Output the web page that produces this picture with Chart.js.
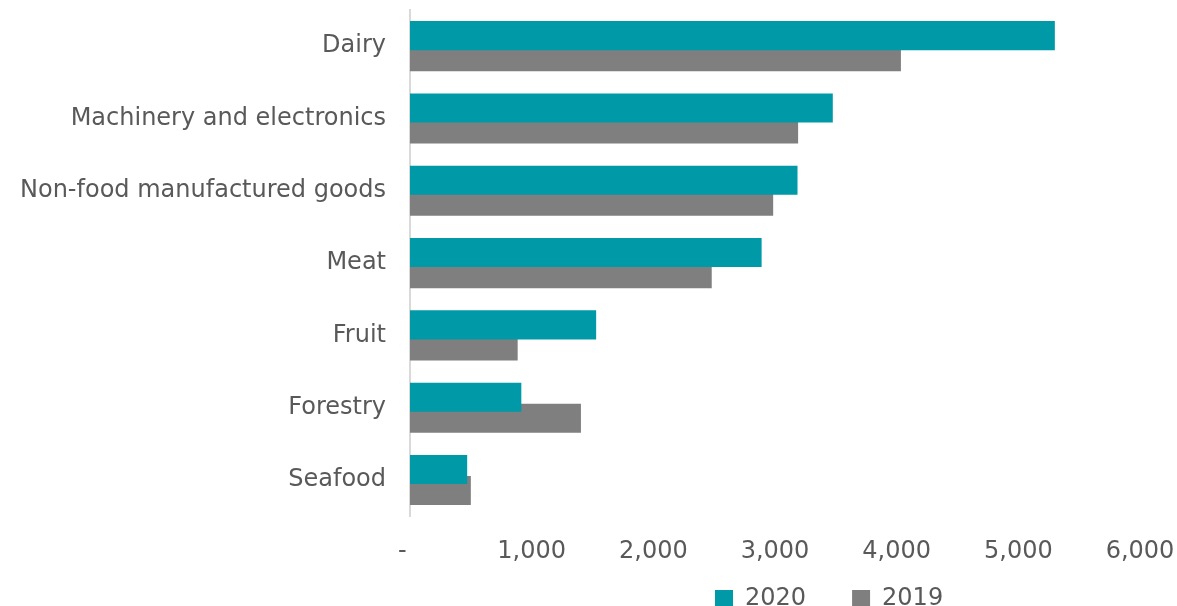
<!DOCTYPE html>
<html>
<head>
<meta charset="utf-8">
<script src="https://cdn.jsdelivr.net/npm/chart.js@4.4.1/dist/chart.umd.min.js"></script>
<style>
  html, body { margin: 0; padding: 0; background: #fff; overflow: hidden; }
  .chart-box { position: relative; width: 1177px; height: 667px; }
</style>
</head>
<body>
<div class="chart-box"><canvas id="exportChart"></canvas></div>
<script>
const categories = ['Dairy', 'Machinery and electronics', 'Non-food manufactured goods', 'Meat', 'Fruit', 'Forestry', 'Seafood'];
const values2020 = [5300, 3475, 3185, 2890, 1530, 915, 470];
const values2019 = [4035, 3190, 2985, 2480, 885, 1405, 500];
const xTicks = [0, 1000, 2000, 3000, 4000, 5000, 6000];

const FONT = 'DejaVu Sans, Verdana, sans-serif';
const TEXT = '#595959';

function numberFmt(value) {
  if (Number(value) === 0) return '-  ';
  return new Intl.NumberFormat('en-US', { maximumFractionDigits: 0 }).format(value);
}

// Excel puts the legend off-centre and close under the axis, so move it after layout
const legendPlace = {
  id: 'legendPlace',
  afterLayout(chart) {
    const lg = chart.legend;
    const pad = lg.options.labels.padding;
    const w = lg.right - lg.left;
    const h = lg.bottom - lg.top;
    lg.left = 715 - pad;
    lg.right = lg.left + w;
    lg.top = 587 - pad;
    lg.bottom = lg.top + h;
  }
};

new Chart(document.getElementById('exportChart'), {
  type: 'bar',
  data: {
    labels: categories,
    datasets: [
      { label: '2020', data: values2020, backgroundColor: '#0099A8', categoryPercentage: 0.582, barPercentage: 1.38 },
      { label: '2019', data: values2019, backgroundColor: '#7F7F7F', categoryPercentage: 0.582, barPercentage: 1.38 }
    ]
  },
  options: {
    indexAxis: 'y',
    responsive: true,
    maintainAspectRatio: false,
    animation: false,
    layout: { padding: { top: 10, right: 37, bottom: 0, left: 0 } },
    plugins: {
      tooltip: { enabled: false },
      legend: {
        position: 'bottom',
        align: 'start',
        labels: {
          color: TEXT,
          font: { family: FONT, size: 24 },
          boxWidth: 18,
          boxHeight: 18,
          padding: 46
        }
      }
    },
    scales: {
      x: {
        min: 0,
        max: 6000,
        afterBuildTicks: (axis) => { axis.ticks = xTicks.map((v) => ({ value: v })); },
        afterFit: (axis) => {
          axis.paddingLeft = 0;
          axis.paddingRight = 0;
        },
        grid: { display: false, drawTicks: false },
        border: { display: false },
        ticks: {
          color: TEXT,
          font: { family: FONT, size: 24 },
          padding: 21,
          maxRotation: 0,
          callback: (value) => numberFmt(value)
        }
      },
      y: {
        afterFit: (axis) => {
          axis.width = 410;
          axis.paddingTop = 0;
          axis.paddingBottom = 0;
        },
        grid: { display: false, drawTicks: false },
        border: { display: true, color: '#D9D9D9', width: 2 },
        ticks: {
          color: TEXT,
          font: { family: FONT, size: 24 },
          padding: 24
        }
      }
    }
  },
  plugins: [legendPlace]
});
</script>
</body>
</html>
